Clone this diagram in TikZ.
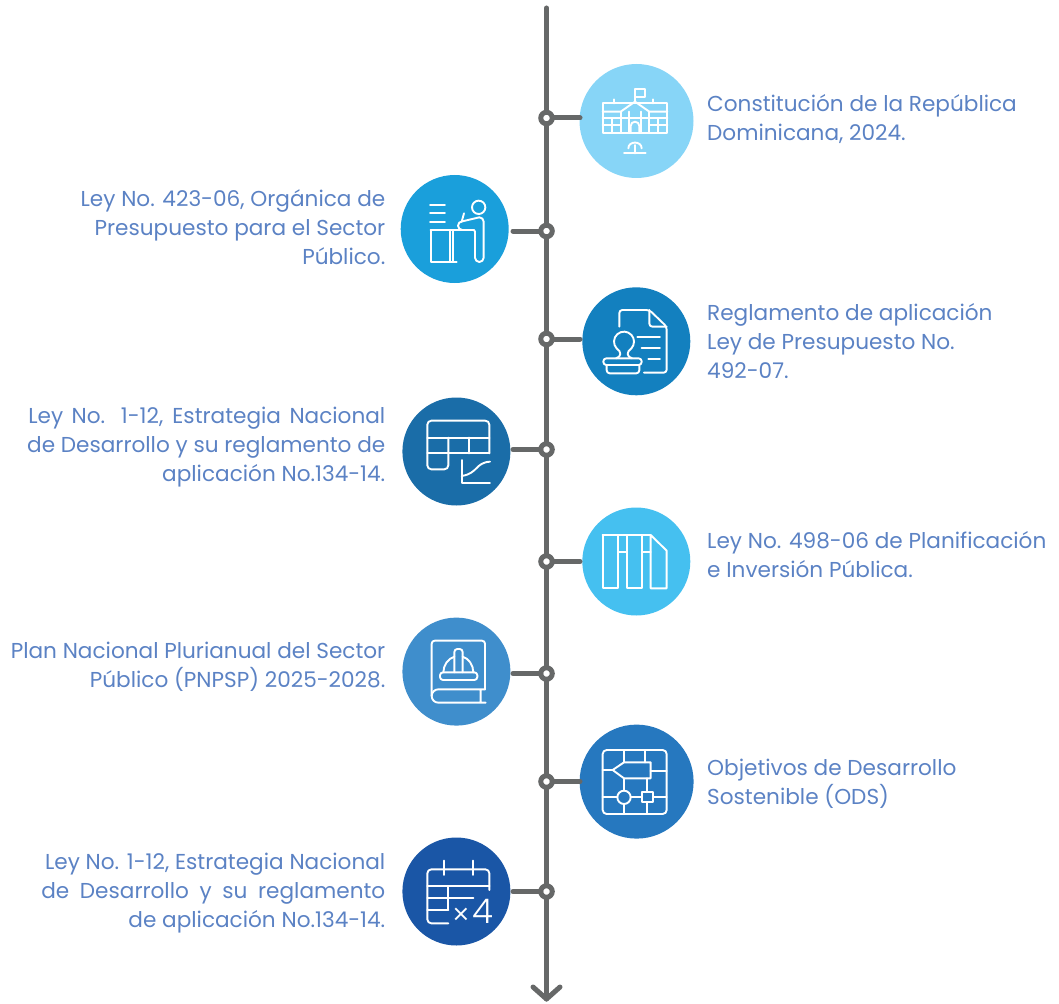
\documentclass[tikz,border=0pt]{standalone}
\usepackage{fontspec}
\setmainfont{Poppins}
\newfontfamily\iconfont{Poppins Light}
\definecolor{labelblue}{HTML}{5B82C4}
\definecolor{stemgray}{HTML}{666868}
\begin{document}
\begin{tikzpicture}[
          x=1pt, y=-1pt,
          disc/.style={
            circle,
            inner sep=0pt,
            minimum size=#1,
          },
          hub/.style={
            circle,
            draw=stemgray,
            line width=5pt,
            fill=white,
            inner sep=0pt,
            outer sep=0pt,
            minimum size=11.5pt,
          },
          spoke/.style={
            draw=stemgray,
            line width=5pt,
            line cap=round,
          },
          lawtext/.style={
            text=labelblue,
            inner sep=0pt,
            font=\fontsize{21.6}{29}\selectfont,
          },
          toright/.style={lawtext, align=left, anchor=north west},
          toleft/.style={lawtext, align=right, anchor=north east},
          glyph/.style={
            draw=white,
            line width=1.9pt,
            line cap=round,
            line join=round,
          },
          crop/.style={shift={#1}, x=0.33333pt, y=-0.33333pt},
        ]
          \useasboundingbox (0,0) rectangle (1059,1003);

          % stem
          \coordinate (top) at (546.5,8);
          \coordinate (bottom) at (546.5,999);
          \coordinate (tipl) at (533,987);
          \coordinate (tipr) at (560,987);
          \draw[spoke] (top) -- (bottom);
          \draw[spoke, line join=round] (tipl) -- (bottom) -- (tipr);

          % discs
          \node[disc=114pt, fill={rgb,255:red,135;green,213;blue,247}] (c1) at (636.5,121) {};
          \node[disc=108pt, fill={rgb,255:red,26;green,159;blue,219}] (c2) at (454.7,229) {};
          \node[disc=108pt, fill={rgb,255:red,19;green,128;blue,191}] (c3) at (636.3,341.3) {};
          \node[disc=108pt, fill={rgb,255:red,26;green,109;blue,168}] (c4) at (456.4,451.5) {};
          \node[disc=108pt, fill={rgb,255:red,69;green,192;blue,240}] (c5) at (636.3,561.5) {};
          \node[disc=108pt, fill={rgb,255:red,63;green,142;blue,204}] (c6) at (456.4,671.6) {};
          \node[disc=114pt, fill={rgb,255:red,38;green,120;blue,191}] (c7) at (636.6,781.6) {};
          \node[disc=108pt, fill={rgb,255:red,26;green,86;blue,166}] (c8) at (456.4,891.5) {};

          % hubs
          \node[hub] (h1) at (546.5,118) {};
          \node[hub] (h2) at (546.5,231) {};
          \node[hub] (h3) at (546.5,339) {};
          \node[hub] (h4) at (546.5,449.5) {};
          \node[hub] (h5) at (546.5,561.5) {};
          \node[hub] (h6) at (546.5,673.5) {};
          \node[hub] (h7) at (546.5,781.5) {};
          \node[hub] (h8) at (546.5,891.5) {};

          % free ends of the spokes, at the rim of the discs
          \coordinate (e1) at (580,118);
          \coordinate (e2) at (513,231);
          \coordinate (e3) at (580,339);
          \coordinate (e4) at (513,449.5);
          \coordinate (e5) at (580,561.5);
          \coordinate (e6) at (513,673.5);
          \coordinate (e7) at (580,781.5);
          \coordinate (e8) at (513,891.5);
          \draw[spoke]
              (h1) -- (e1)
              (h2) -- (e2)
              (h3) -- (e3)
              (h4) -- (e4)
              (h5) -- (e5)
              (h6) -- (e6)
              (h7) -- (e7)
              (h8) -- (e8);

          % labels
          \node[toright] (t1) at (707,94) {Constitución de la República\\Dominicana, 2024.};
          \node[toleft] (t2) at (385.5,189) {Ley No. 423-06, Orgánica de\\Presupuesto para el Sector\\Público.};
          \node[toright] (t3) at (707,303) {Reglamento de aplicación\\Ley de Presupuesto No.\\492-07.};
          \node[toleft] (t4) at (385.5,406.5) {\makebox[357pt][s]{Ley No. 1-12, Estrategia Nacional}\\de Desarrollo y su reglamento de\\aplicación No.134-14.};
          \node[toright] (t5) at (707,531.5) {Ley No. 498-06 de Planificación\\e Inversión Pública.};
          \node[toleft] (t6) at (385.5,642) {Plan Nacional Plurianual del Sector\\Público (PNPSP) 2025-2028.};
          \node[toright] (t7) at (707,758.5) {Objetivos de Desarrollo\\Sostenible (ODS)};
          \node[toleft] (t8) at (385.5,853) {Ley No. 1-12, Estrategia Nacional\\\makebox[344pt][s]{de Desarrollo y su reglamento}\\de aplicación No.134-14.};

          % icon 1
          \begin{scope}[crop={(530,50)}]
            \draw[glyph] (218,160) rectangle (412,248);
            \draw[glyph] (218,185) -- (272,185) -- (315,155) -- (358,185) -- (412,185);
            \draw[glyph] (315,155) -- (315,118) -- (345,118) -- (345,142) -- (315,142);
            \draw[glyph] (252,148) -- (252,160) (370,148) -- (370,160);
            \draw[glyph] (218,205) -- (412,205) (218,225) -- (272,225) (358,225) -- (412,225);
            \draw[glyph] (245,205) -- (245,248) (272,185) -- (272,248) (298,185) -- (298,248);
            \draw[glyph] (332,185) -- (332,248) (358,185) -- (358,248) (385,205) -- (385,248);
            \draw[glyph] (302,248) -- (302,228) arc[start angle=180, end angle=360, radius=13] -- (328,248);
            \draw[glyph] (282,310) -- (347,310) (315,310) -- (315,285);
            \draw[glyph] (295,295) .. controls (295,272) and (335,272) .. (335,295);
          \end{scope}

          % icon 2
          \begin{scope}[crop={(390,165)}]
            \draw[glyph] (120,120) -- (165,120) (120,145) -- (165,145) (120,170) -- (165,170);
            \draw[glyph] (266,127) circle[radius=20];
            \draw[glyph] (222,145) -- (215,170);
            \draw[glyph] (122,195) -- (252,195) -- (255,200) -- (255,278) arc[start angle=180, end angle=0, radius=13] -- (281,170) arc[start angle=0, end angle=-90, radius=13] -- (217,169) arc[start angle=-90, end angle=-270, radius=13];
            \draw[glyph] (122,195) -- (122,290) -- (200,290) (180,195) -- (180,290) (188,195) -- (188,290);
          \end{scope}

          % icon 3
          \begin{scope}[crop={(530,280)}]
            \draw[glyph, rounded corners=3pt] (268,140) -- (268,90) -- (358,90) -- (410,140) -- (410,278) -- (342,278);
            \draw[glyph, rounded corners=3pt] (358,90) -- (358,140) -- (410,140);
            \draw[glyph] (322,172) -- (390,172) (335,205) -- (390,205) (355,238) -- (390,238);
            \draw[glyph] (258,235) .. controls (275,230) and (275,215) .. (259.7,205) arc[start angle=138, end angle=402, radius=30] .. controls (289,215) and (289,230) .. (306,235);
            \draw[glyph, rounded corners=3pt] (220,235) rectangle (335,255);
            \draw[glyph, rounded corners=3pt] (230,255) -- (230,280) -- (328,280) -- (328,255);
          \end{scope}

          % icon 4
          \begin{scope}[crop={(390,390)}]
            \draw[glyph, rounded corners=4pt] (298,190) -- (298,92) -- (112,92) -- (112,238) -- (175,238) -- (175,143);
            \draw[glyph] (112,143) -- (298,143) (112,190) -- (298,190) (237,143) -- (237,190);
            \draw[glyph] (215,210) -- (215,280) -- (300,280);
            \draw[glyph] (215,258) .. controls (265,250) and (255,218) .. (300,215);
          \end{scope}

          % icon 5
          \begin{scope}[crop={(530,500)}]
            \draw[glyph] (218,105) rectangle (265,265);
            \draw[glyph] (290,105) rectangle (337,265);
            \draw[glyph] (362,105) -- (410,152) -- (410,265) -- (362,265) -- (362,105);
            \draw[glyph] (218,105) -- (362,105) (265,157) -- (290,157) (337,157) -- (362,157);
          \end{scope}

          % icon 6
          \begin{scope}[crop={(390,610)}]
            \draw[glyph, rounded corners=3pt] (125,258) -- (125,92) -- (285,92) -- (285,238);
            \draw[glyph] (285,238) -- (145,238) arc[start angle=-90, end angle=-270, radius=20] -- (287,278) (272,238) -- (272,278);
            \draw[glyph, rounded corners=3pt] (150,187) rectangle (262,210);
            \draw[glyph] (160,187) .. controls (160,165) and (175,145) .. (193,140);
            \draw[glyph] (250,187) .. controls (250,165) and (236,145) .. (218,140);
            \draw[glyph, rounded corners=3pt] (193,187) -- (193,117) -- (218,117) -- (218,187);
          \end{scope}

          % icon 7
          \begin{scope}[crop={(530,720)}]
            \draw[glyph, rounded corners=4pt] (218,90) rectangle (410,282);
            \draw[glyph] (282,90) -- (282,127) (345,90) -- (345,127);
            \draw[glyph] (248,150) -- (282,127) -- (362,127) -- (362,175) -- (282,175) -- cycle;
            \draw[glyph] (218,150) -- (248,150) (362,153) -- (410,153);
            \draw[glyph] (282,175) -- (282,212) (282,252) -- (282,282);
            \draw[glyph] (282,232) circle[radius=20];
            \draw[glyph] (352,175) -- (352,215) (352,247) -- (352,282);
            \draw[glyph] (335,215) rectangle (370,247);
            \draw[glyph] (218,230) -- (262,230) (302,230) -- (335,230) (370,230) -- (410,230);
          \end{scope}

          % icon 8
          \begin{scope}[crop={(390,830)}]
            \draw[glyph, rounded corners=4pt] (175,280) -- (112,280) -- (112,118) -- (298,118) -- (298,180);
            \draw[glyph] (112,168) -- (298,168) (112,205) -- (250,205) (112,240) -- (175,240) (175,168) -- (175,240);
            \draw[glyph] (162,92) -- (162,135) (250,92) -- (250,135);
            \node[text=white, inner sep=0pt, anchor=base west, font=\iconfont\fontsize{30}{30}\selectfont] (times) at (186,287) {×};
            \node[text=white, inner sep=0pt, anchor=base west, font=\iconfont\fontsize{34}{34}\selectfont] (four) at (246,280) {4};
          \end{scope}
\end{tikzpicture}
\end{document}
